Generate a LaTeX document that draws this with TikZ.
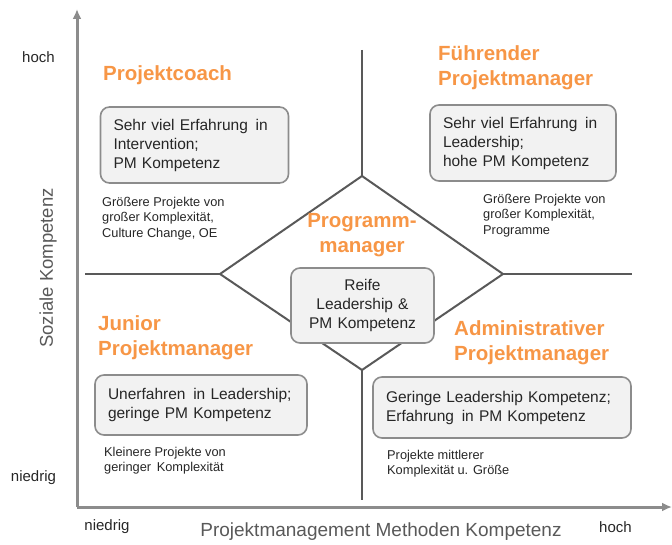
\documentclass[tikz,border=0pt]{standalone}
\usepackage{fontspec}
\setmainfont{Liberation Sans}
\usetikzlibrary{arrows.meta}
\definecolor{pmorange}{HTML}{F79646}
\definecolor{axisgray}{HTML}{8C8C8C}
\definecolor{linegray}{HTML}{595959}
\definecolor{textgray}{HTML}{262626}
\definecolor{boxfill}{HTML}{F2F2F2}
\tikzset{>=latex}
\tikzstyle{role} = [draw=none, text=pmorange, inner sep=0, align=left, font=\fontsize{20.5}{25}\selectfont\bfseries]
\tikzstyle{info} = [rectangle, rounded corners=9pt, draw=axisgray, line width=1.6pt, fill=boxfill, inner xsep=13pt, inner ysep=0, align=left, text=textgray, font=\fontsize{15.5}{19}\selectfont]
\tikzstyle{note} = [draw=none, inner sep=0, align=left, text=textgray, font=\fontsize{12.8}{15.5}\selectfont]
\tikzstyle{level} = [draw=none, inner sep=0, text=textgray, font=\fontsize{15}{17}\selectfont]
\tikzstyle{divider} = [-, draw=linegray, line width=2pt]

\begin{document}
\begin{tikzpicture}[x=1pt, y=-1pt]
\useasboundingbox (0,0) rectangle (672,545);
% axes
\coordinate (O) at (77,507);
\coordinate (Ytip) at (77,9);
\coordinate (Xtip) at (672,507);
\draw [-{Latex[length=10pt,width=9pt]}, draw=axisgray, fill=axisgray, line width=3pt] (O) to (Ytip);
\draw [-{Latex[length=10pt,width=9pt]}, draw=axisgray, fill=axisgray, line width=3pt] (O) to (Xtip);

% quadrants with the diamond in the middle
\coordinate (Dt) at (362,176);
\coordinate (Dl) at (220,274);
\coordinate (Dr) at (503,274);
\coordinate (Db) at (362,370);
\coordinate (Vtop) at (362,50);
\coordinate (Vbot) at (362,500);
\coordinate (Hl) at (85,274);
\coordinate (Hr) at (632,274);
\draw [divider] (Vtop) to (Dt);
\draw [divider] (Db) to (Vbot);
\draw [divider] (Hl) to (Dl);
\draw [divider] (Dr) to (Hr);
\draw [divider, line join=miter] (Dt) -- (Dr) -- (Db) -- (Dl) -- cycle;

% roles
\node [role] (coach) at (103,75) [anchor=west] {Projektcoach};
\node [role] (fuehrend) at (438,67.5) [anchor=west] {Führender\\Projektmanager};
\node [role, align=center] (programm) at (362,235) {Programm-\\manager};
\node [role] (junior) at (98,338) [anchor=west] {Junior\\Projektmanager};
\node [role] (admin) at (454,342.5) [anchor=west] {Administrativer\\Projektmanager};

% profiles
\node [info, text width=162pt, minimum height=76pt] (coachbox) at (194.5,145) {Sehr viel Erfahrung\, in\\Intervention;\\PM Kompetenz};
\node [info, text width=160pt, minimum height=76pt] (fuehrendbox) at (523,143) {Sehr viel Erfahrung\, in\\Leadership;\\hohe PM Kompetenz};
\node [info, inner xsep=0pt, text width=143pt, align=center, minimum height=75pt] (programmbox) at (362.5,305.5) {Reife\\Leadership \&\\PM Kompetenz};
\node [info, text width=186pt, minimum height=60pt] (juniorbox) at (201,405) {Unerfahren\, in Leadership;\\geringe PM Kompetenz};
\node [info, text width=232pt, minimum height=61pt] (adminbox) at (502,407.5) {Geringe Leadership Kompetenz;\\Erfahrung\, in PM Kompetenz};

% typical projects
\node [note, anchor=north west] (coachnote) at (102,197) {Größere Projekte von\\großer Komplexität,\\Culture Change, OE};
\node [note, anchor=north west] (fuehrendnote) at (483,194) {Größere Projekte von\\großer Komplexität,\\Programme};
\node [note, anchor=north west] (juniornote) at (104,447) {Kleinere Projekte von\\geringer\, Komplexität};
\node [note, anchor=north west] (adminnote) at (387,450) {Projekte mittlerer\\Komplexität u. Größe};

% axis labels
\node [level] (yhigh) at (38.5,57) {hoch};
\node [level] (ylow) at (33.5,478) {niedrig};
\node [level] (xlow) at (107,527) {niedrig};
\node [level] (xhigh) at (615.5,527) {hoch};
\node [draw=none, inner sep=0, text=linegray, font=\fontsize{19}{21}\selectfont] (xlabel) at (381,532) {Projektmanagement Methoden Kompetenz};
\node [draw=none, inner sep=0, text=linegray, rotate=90, font=\fontsize{18.5}{21}\selectfont] (ylabel) at (48,268) {Soziale Kompetenz};
\end{tikzpicture}
\end{document}
